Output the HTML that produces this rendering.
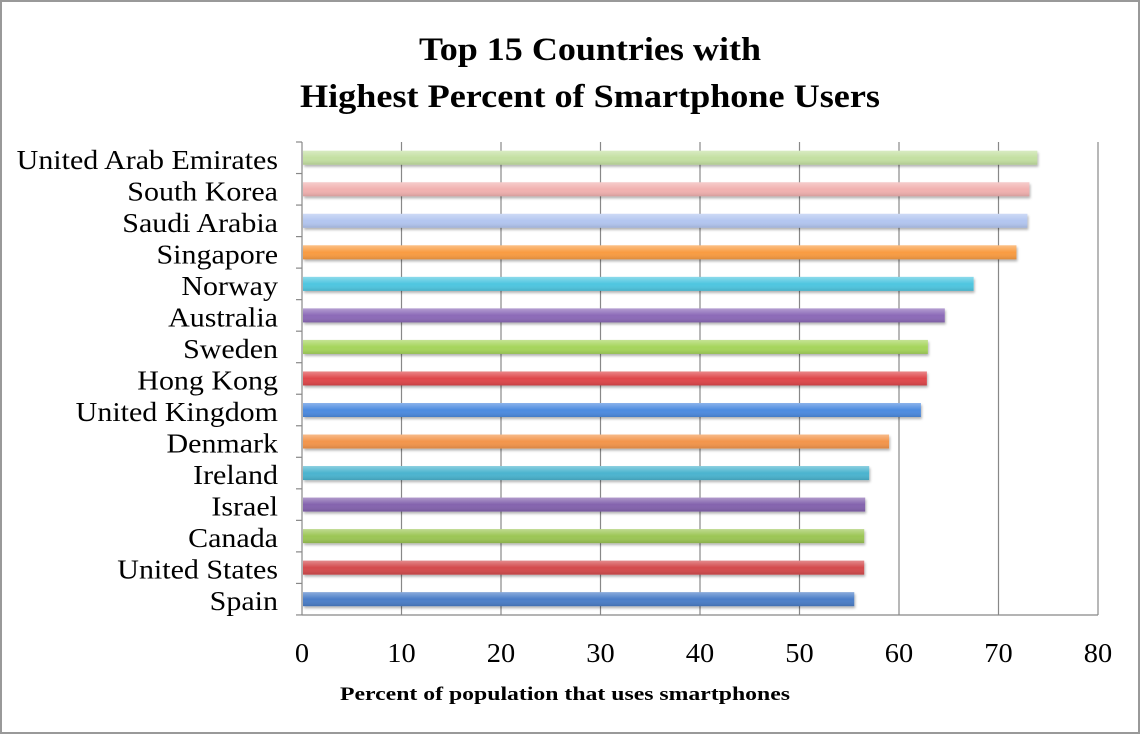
<!DOCTYPE html>
<html><head><meta charset="utf-8"><style>html,body{margin:0;padding:0;background:#fff}svg{display:block}</style></head>
<body>
<svg width="1140" height="734" xmlns="http://www.w3.org/2000/svg" font-family="Liberation Serif, serif">
<defs>
<filter id="sh" x="-5%" y="-50%" width="110%" height="200%"><feDropShadow dx="1" dy="2" stdDeviation="1.2" flood-color="#000" flood-opacity="0.3"/></filter>
<linearGradient id="gl" x1="0" y1="0" x2="0" y2="1"><stop offset="0" stop-color="#fff" stop-opacity="0.35"/><stop offset="0.5" stop-color="#fff" stop-opacity="0"/><stop offset="1" stop-color="#000" stop-opacity="0.12"/></linearGradient>
</defs>
<rect x="1" y="1" width="1138" height="732" fill="#fff" stroke="#999" stroke-width="2"/>
<text x="590" y="60" text-anchor="middle" font-size="33" font-weight="bold" textLength="342" lengthAdjust="spacingAndGlyphs">Top 15 Countries with</text>
<text x="590" y="107" text-anchor="middle" font-size="33" font-weight="bold" textLength="580" lengthAdjust="spacingAndGlyphs">Highest Percent of Smartphone Users</text>
<g stroke="#888" stroke-width="1.2">
<line x1="401.5" y1="142" x2="401.5" y2="615"/><line x1="501" y1="142" x2="501" y2="615"/><line x1="600.5" y1="142" x2="600.5" y2="615"/><line x1="700" y1="142" x2="700" y2="615"/><line x1="799.5" y1="142" x2="799.5" y2="615"/><line x1="899" y1="142" x2="899" y2="615"/><line x1="998.5" y1="142" x2="998.5" y2="615"/><line x1="1098" y1="142" x2="1098" y2="615"/>
<line x1="302" y1="142" x2="302" y2="615"/><line x1="302" y1="615" x2="1098" y2="615"/>
</g>
<g stroke="#888" stroke-width="1.2" id="ticks"></g>
<g id="bars"></g>
<g id="labels" font-size="27" text-anchor="end"></g>
<g font-size="27" text-anchor="middle" id="xt">
<text x="302" y="662">0</text><text x="401.5" y="662">10</text><text x="501" y="662">20</text><text x="600.5" y="662">30</text><text x="700" y="662">40</text><text x="799.5" y="662">50</text><text x="899" y="662">60</text><text x="998.5" y="662">70</text><text x="1098" y="662">80</text>
</g>
<text x="565" y="700" text-anchor="middle" font-size="19" font-weight="bold" textLength="450" lengthAdjust="spacingAndGlyphs">Percent of population that uses smartphones</text>
<script>
var d=[["United Arab Emirates",73.9,"#c4e0a2"],["South Korea",73.1,"#f1b1b0"],["Saudi Arabia",72.9,"#b3c6f0"],["Singapore",71.8,"#f99c42"],["Norway",67.5,"#4fc6e0"],["Australia",64.6,"#8c6bb8"],["Sweden",62.9,"#a6d55c"],["Hong Kong",62.8,"#df474c"],["United Kingdom",62.2,"#4d8be0"],["Denmark",59,"#f3954b"],["Ireland",57,"#4bb4cf"],["Israel",56.6,"#8463ae"],["Canada",56.5,"#9cc655"],["United States",56.5,"#d44b4e"],["Spain",55.5,"#4b7ec8"]];
var ns="http://www.w3.org/2000/svg",B=document.getElementById("bars"),L=document.getElementById("labels"),T=document.getElementById("ticks");
function el(t,a,p){var e=document.createElementNS(ns,t);for(var k in a)e.setAttribute(k,a[k]);p.appendChild(e);return e;}
for(var i=0;i<=15;i++){var y=142+i*31.53;el("line",{x1:296,y1:y,x2:302,y2:y},T);}
d.forEach(function(r,i){var c=142+i*31.53+15.76;var w=r[1]*9.95;
el("rect",{x:303,y:c-7,width:w-1,height:14,fill:r[2],filter:"url(#sh)"},B);
el("rect",{x:303,y:c-7,width:w-1,height:14,fill:"url(#gl)"},B);
var t=el("text",{x:278,y:c+11},L);t.textContent=r[0];
var len=t.getComputedTextLength();t.setAttribute("textLength",(len*1.11).toFixed(1));t.setAttribute("lengthAdjust","spacingAndGlyphs");});
Array.prototype.forEach.call(document.querySelectorAll("#xt text"),function(t){var len=t.getComputedTextLength();t.setAttribute("textLength",(len*1.05).toFixed(1));t.setAttribute("lengthAdjust","spacingAndGlyphs");});
</script>
</svg>
</body></html>
